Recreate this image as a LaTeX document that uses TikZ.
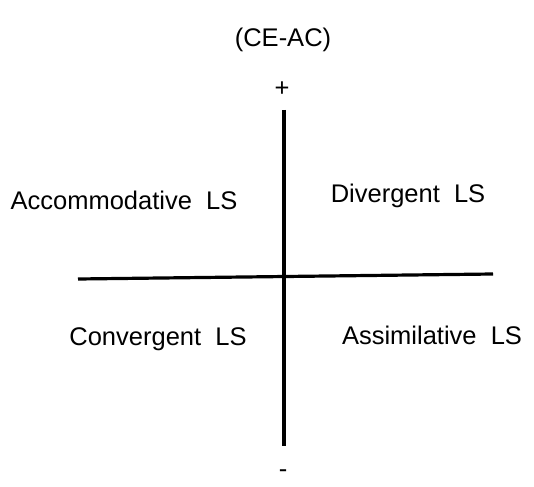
\documentclass[tikz,border=0pt]{standalone}
\usepackage{fontspec}
\setmainfont{Liberation Sans}
\begin{document}
\begin{tikzpicture}[
  x=1pt, y=-1pt,
  font=\fontsize{25.5}{30}\selectfont,
  q/.style={inner sep=0pt, anchor=center},
  ax/.style={line width=3.2pt}
]
\useasboundingbox (0,0) rectangle (534,486);
\node[q] (title) at (283,40) {(CE-AC)};
\node[q] (plus) at (282,89) {+};
\node[q] (minus) at (283,474) {-};
\coordinate (top) at (284,110);
\coordinate (bot) at (284,446);
\coordinate (left) at (78,279);
\coordinate (right) at (493,274);
\draw[ax] (top) -- (bot);
\draw[ax] (left) -- (right);
\node[q] (acc) at (124,200) {Accommodative\ \ LS};
\node[q] (div) at (408,196) {Divergent\ \ LS};
\node[q] (con) at (158,339) {Convergent\ \ LS};
\node[q] (ass) at (432,335) {Assimilative\ \ LS};
\end{tikzpicture}
\end{document}
